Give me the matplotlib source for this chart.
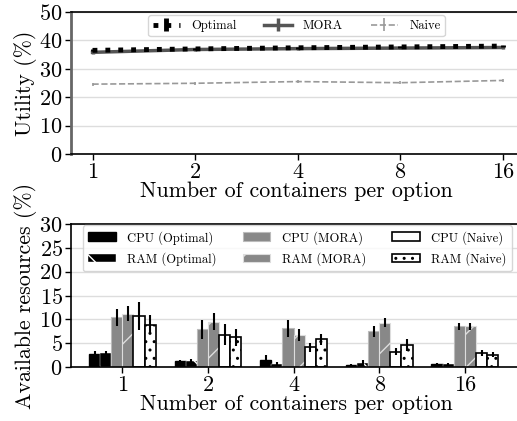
import numpy as np
import matplotlib
matplotlib.use("Agg")
import matplotlib.pyplot as plt

plt.rcParams['font.family'] = 'cmr10'
plt.rcParams['mathtext.fontset'] = 'cm'
plt.rcParams['axes.formatter.use_mathtext'] = True
plt.rcParams['hatch.linewidth'] = 1.0

containers = ["1", "2", "4", "8", "16"]

util_optimal = [36.5, 37.0, 37.4, 37.7, 38.0]
util_mora = [35.8, 36.8, 37.1, 37.3, 37.5]
util_naive = [24.6, 24.9, 25.5, 25.1, 25.9]
util_optimal_err = [0.4, 0.3, 0.3, 0.3, 0.3]
util_mora_err = [0.5, 0.4, 0.4, 0.4, 0.4]
util_naive_err = [0.5, 0.5, 0.5, 0.5, 0.5]

cpu_optimal = [2.7, 1.2, 1.5, 0.35, 0.6]
ram_optimal = [2.9, 1.3, 0.6, 0.9, 0.55]
cpu_mora = [10.4, 7.9, 8.1, 7.5, 8.5]
ram_mora = [11.2, 9.5, 6.7, 9.3, 8.5]
cpu_naive = [10.7, 6.8, 4.1, 3.2, 3.0]
ram_naive = [8.9, 6.2, 5.8, 4.6, 2.6]
cpu_optimal_err = [0.6, 0.3, 1.0, 0.2, 0.2]
ram_optimal_err = [0.5, 0.3, 0.4, 0.5, 0.3]
cpu_mora_err = [1.8, 2.0, 1.8, 1.2, 0.8]
ram_mora_err = [1.5, 1.8, 1.2, 0.9, 0.8]
cpu_naive_err = [3.0, 2.2, 1.0, 0.7, 0.6]
ram_naive_err = [2.0, 1.7, 1.2, 1.2, 0.5]

fig = plt.figure(figsize=(5.17, 4.21), dpi=100)
W, H = 517, 421
ax1 = fig.add_axes([71/W, 1-154/H, 1-71/W+0.01, (154-12)/H])
ax2 = fig.add_axes([71/W, 1-367/H, 1-71/W+0.01, (367-224)/H])

x = np.arange(len(containers))

for ax in (ax1, ax2):
    ax.set_axisbelow(True)
    ax.yaxis.grid(True, color='#dddddd', linewidth=1.0)
    ax.spines['right'].set_visible(False)
    for s in ('left', 'bottom', 'top'):
        ax.spines[s].set_color('black')
        ax.spines[s].set_linewidth(1.2)
    ax.tick_params(axis='both', labelsize=16, length=4, width=1, direction='out', colors='black', pad=2)
    ax.set_xticks(x)
    ax.set_xticklabels(containers)
    ax.set_xlabel("Number of containers per option", fontsize=15.8, labelpad=0)

ax1.spines['left'].set_color('#666666')
ax1.spines['left'].set_linewidth(2)

ax1.errorbar(x, util_optimal, yerr=util_optimal_err, color='black', linestyle=':', linewidth=3.5,
             label='Optimal', zorder=4)
ax1.errorbar(x, util_mora, yerr=util_mora_err, color='#555555', linestyle='-', linewidth=2.5,
             label='MORA', zorder=3)
ax1.errorbar(x, util_naive, yerr=util_naive_err, color='#999999', linestyle='--', linewidth=1.2,
             label='Naive', zorder=3)
ax1.set_xlim(-0.21, 4.19)
ax1.set_ylim(0, 50)
ax1.set_yticks([0, 10, 20, 30, 40, 50])
ax1.set_ylabel("Utility (%)", fontsize=15.8, labelpad=2)
leg1 = ax1.legend(loc='upper center', ncol=3, fontsize=9, frameon=True, bbox_to_anchor=(0.5, 1.02),
                  handlelength=2.2, columnspacing=2.2, handletextpad=0.9, borderpad=0.35, fancybox=True)
leg1.get_frame().set_edgecolor('#cccccc')

bw = 0.13
# (values, errors, face colour, edge/hatch colour, edge width, hatch, label)
series = [
    (cpu_optimal, cpu_optimal_err, 'black', 'black', 1.0, '', 'CPU (Optimal)'),
    (ram_optimal, ram_optimal_err, 'black', 'white', 0.3, '\\', 'RAM (Optimal)'),
    (cpu_mora, cpu_mora_err, '#888888', '#bbbbbb', 0.8, '', 'CPU (MORA)'),
    (ram_mora, ram_mora_err, '#888888', '#dddddd', 0.8, '/', 'RAM (MORA)'),
    (cpu_naive, cpu_naive_err, 'white', 'black', 1.2, '', 'CPU (Naive)'),
    (ram_naive, ram_naive_err, 'white', 'black', 1.2, '..', 'RAM (Naive)'),
]
handles = []
for i, (vals, errs, fc, ec, lw, hatch, lab) in enumerate(series):
    off = (i - 2.5) * bw
    b = ax2.bar(x + off, vals, bw, color=fc, edgecolor=ec, hatch=hatch, linewidth=lw, label=lab,
                zorder=2)
    ax2.errorbar(x + off, vals, yerr=errs, fmt='none', ecolor='black', elinewidth=1.5, capsize=0, zorder=3)
    handles.append(b)

ax2.set_xlim(-0.6, 4.67)
ax2.set_ylim(0, 30)
ax2.set_yticks([0, 5, 10, 15, 20, 25, 30])
ax2.set_ylabel("Available resources (%)", fontsize=15.8, labelpad=2)
leg2 = ax2.legend(handles=handles, loc='upper left', ncol=3, fontsize=9,
                  bbox_to_anchor=(0.012, 1.035), handlelength=2.2, columnspacing=2.1, handletextpad=0.9,
                  borderpad=0.45, labelspacing=0.6, fancybox=True)
leg2.get_frame().set_edgecolor('#cccccc')

fig.savefig("out.png", dpi=100)
